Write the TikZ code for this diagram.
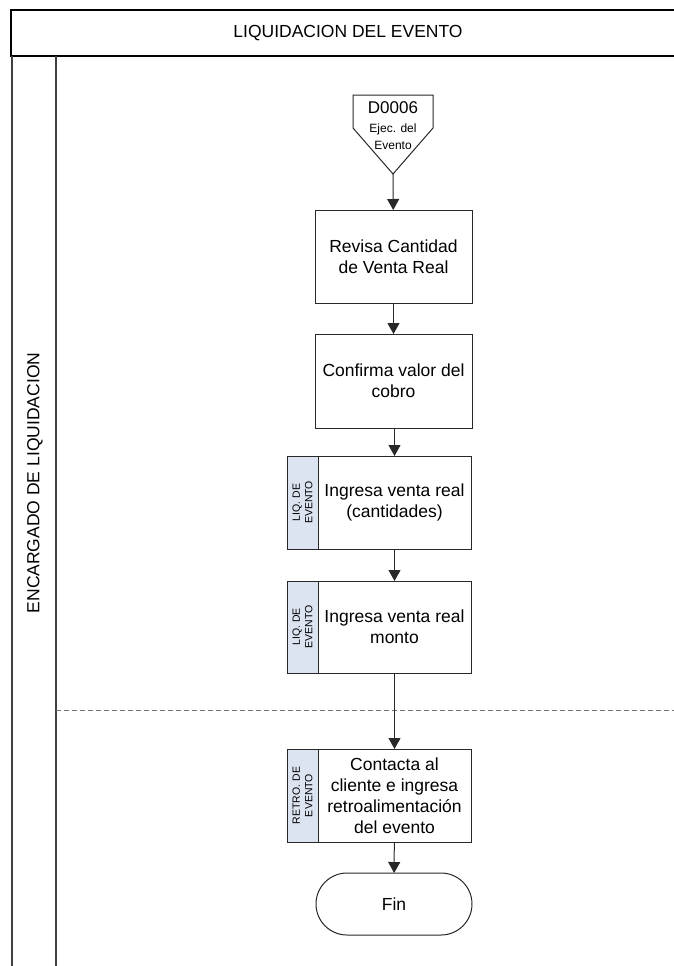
\documentclass[tikz,border=0pt]{standalone}
\usepackage{fontspec}
\setmainfont{Liberation Sans}
\usetikzlibrary{arrows.meta}
\definecolor{stripfill}{RGB}{220,227,241}
\definecolor{edge}{RGB}{40,40,40}
\begin{document}
\begin{tikzpicture}[x=1pt,y=-1pt,
  every node/.style={inner sep=0pt, outer sep=0pt},
  txt/.style={font=\fontsize{17.5}{21}\selectfont},
  procbox/.style={txt, draw=edge, line width=1pt, fill=white,
    minimum width=157pt, minimum height=93pt, align=center},
  mainbox/.style={procbox, minimum width=153pt},
  tagbox/.style={draw=edge, line width=1pt, fill=stripfill,
    minimum width=31pt, minimum height=93pt},
  tagtext/.style={rotate=90, align=center, font=\fontsize{10.5}{12.5}\selectfont},
  flow/.style={line width=1pt, draw=edge, -{Triangle[length=11pt,width=12pt]}},
  laneline/.style={line width=1.5pt, draw=black!75},
  endbox/.style={txt, draw=edge, line width=1pt, fill=white,
    minimum width=156pt, minimum height=62pt, rounded corners=31pt}
]
\useasboundingbox (0,0) rectangle (673,966);

% pool header and lane
\draw[line width=2.5pt] (700,10) -- (11,10) -- (11,56) -- (700,56);
\node[txt] (title) at (348,33) {LIQUIDACION DEL EVENTO};
\draw[laneline] (12,56) -- (12,990);
\draw[laneline] (56,56) -- (56,990);
\node[txt, rotate=90] (lane) at (35,483) {ENCARGADO DE LIQUIDACION};

% phase separator
\draw[draw=black!55, line width=1pt, dash pattern=on 5pt off 3pt] (56,710) -- (700,710);

% off-page connector
\draw[draw=edge, line width=1pt, fill=white]
  (353,95) -- (433,95) -- (433,128) -- (393,174) -- (353,128) -- cycle;
\node[font=\fontsize{17}{20}\selectfont] (d6id) at (393,108) {D0006};
\node[align=center, font=\fontsize{12}{17}\selectfont] (d6txt) at (393,137) {Ejec. del\\Evento};
\coordinate (d6tip) at (393,174);

% process steps
\node[procbox] (b1) at (393.5,256.5) {Revisa Cantidad\\de Venta Real};
\node[procbox, minimum height=94pt] (b2) at (393.5,381) {Confirma valor del\\cobro};

\node[mainbox] (b3) at (394.5,502.5) {Ingresa venta real\\(cantidades)};
\node[tagbox, anchor=east] (t3) at (b3.west) {};
\node[tagtext] (t3txt) at (t3.center) {LIQ. DE\\EVENTO};

\node[mainbox, minimum height=92pt] (b4) at (394.5,627) {Ingresa venta real\\monto};
\node[tagbox, minimum height=92pt, anchor=east] (t4) at (b4.west) {};
\node[tagtext] (t4txt) at (t4.center) {LIQ. DE\\EVENTO};

\node[mainbox] (b5) at (394.5,795.5) {Contacta al\\cliente e ingresa\\retroalimentación\\del evento};
\node[tagbox, anchor=east] (t5) at (b5.west) {};
\node[tagtext] (t5txt) at (t5.center) {RETRO. DE\\EVENTO};

\node[endbox] (fin) at (394,904) {Fin};

% connectors
\draw[flow] (d6tip) -- (b1);
\draw[flow] (b1) -- (b2);
\draw[flow] (b2.south -| b3.north) -- (b3);
\draw[flow] (b3) -- (b4);
\draw[flow] (b4) -- (b5);
\draw[flow] (b5) -- (fin);
\end{tikzpicture}
\end{document}
